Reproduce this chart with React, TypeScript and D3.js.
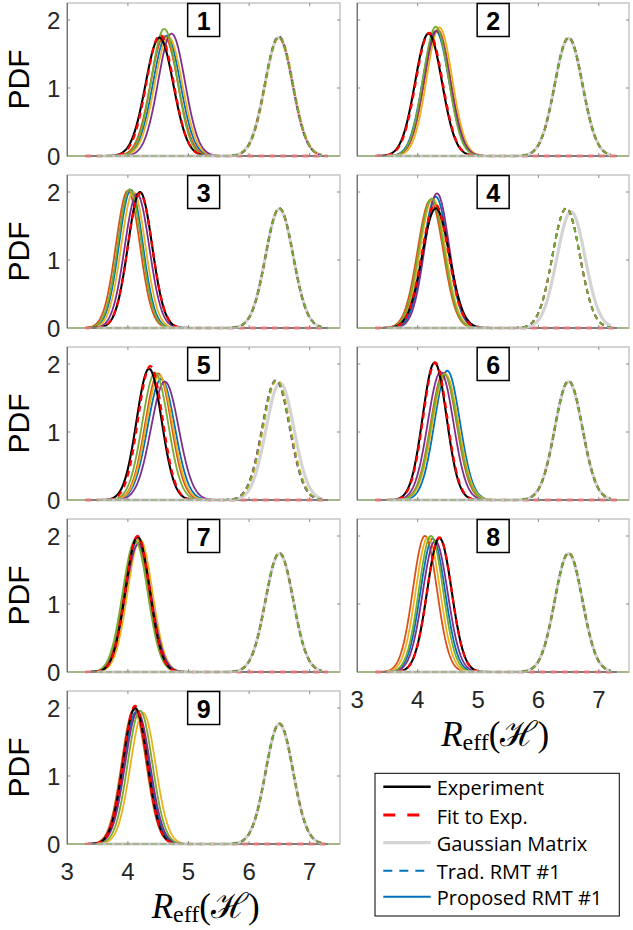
import React from "react";
import * as d3 from "d3";

// ---------- data ----------
// Each curve is a probability density; for each one we read its peak position (mean)
// and peak height off the picture (area = 1, so the peak fixes its width).
const panelIds = [1, 2, 3, 4, 5, 6, 7, 8, 9];

const expMean = [4.52, 4.18, 4.2, 4.3, 4.35, 4.28, 4.16, 4.36, 4.12];
const expPeak = [1.74, 1.8, 2.0, 1.76, 1.93, 2.02, 1.99, 1.97, 2.0];

const fitMean = [4.53, 4.19, 4.2, 4.29, 4.37, 4.29, 4.16, 4.36, 4.12];
const fitPeak = [1.78, 1.81, 1.98, 1.82, 1.97, 2.02, 2.0, 1.98, 2.03];

const gaussMean = [6.49, 6.5, 6.5, 6.54, 6.51, 6.5, 6.5, 6.5, 6.5];
const gaussPeak = [1.74, 1.73, 1.75, 1.71, 1.72, 1.74, 1.74, 1.74, 1.76];

// order of the five runs: blue, orange, yellow, purple, green
const tradMean = [
  [6.49, 6.49, 6.5, 6.49, 6.49],
  [6.5, 6.5, 6.5, 6.5, 6.5],
  [6.5, 6.5, 6.5, 6.5, 6.5],
  [6.46, 6.46, 6.46, 6.46, 6.46],
  [6.45, 6.45, 6.46, 6.44, 6.45],
  [6.5, 6.5, 6.5, 6.5, 6.5],
  [6.5, 6.5, 6.5, 6.5, 6.5],
  [6.5, 6.5, 6.5, 6.5, 6.5],
  [6.5, 6.5, 6.5, 6.5, 6.5],
];
const tradPeak = [
  [1.75, 1.74, 1.75, 1.76, 1.75],
  [1.74, 1.74, 1.74, 1.74, 1.74],
  [1.76, 1.76, 1.76, 1.76, 1.76],
  [1.76, 1.76, 1.76, 1.76, 1.76],
  [1.76, 1.76, 1.76, 1.76, 1.76],
  [1.75, 1.75, 1.75, 1.75, 1.75],
  [1.75, 1.75, 1.75, 1.75, 1.75],
  [1.75, 1.75, 1.75, 1.75, 1.75],
  [1.77, 1.77, 1.77, 1.77, 1.77],
];

const propMean = [
  [4.64, 4.6, 4.67, 4.72, 4.6],
  [4.3, 4.33, 4.36, 4.32, 4.3],
  [4.05, 4.0, 4.09, 4.15, 4.03],
  [4.3, 4.21, 4.25, 4.32, 4.23],
  [4.55, 4.5, 4.52, 4.61, 4.45],
  [4.49, 4.43, 4.46, 4.38, 4.44],
  [4.15, 4.14, 4.2, 4.17, 4.12],
  [4.25, 4.12, 4.17, 4.29, 4.22],
  [4.14, 4.1, 4.25, 4.16, 4.2],
];
const propPeak = [
  [1.77, 1.76, 1.75, 1.8, 1.87],
  [1.84, 1.86, 1.89, 1.84, 1.9],
  [2.03, 2.02, 2.0, 1.97, 2.04],
  [1.93, 1.88, 1.9, 1.98, 1.9],
  [1.78, 1.86, 1.83, 1.74, 1.87],
  [1.9, 1.87, 1.85, 1.88, 1.85],
  [1.92, 1.97, 1.95, 1.88, 1.93],
  [1.96, 2.0, 1.98, 1.93, 2.0],
  [1.95, 1.98, 1.93, 1.94, 1.96],
];

const runColors = ["#0072BD", "#D95319", "#EDB120", "#7E2F8E", "#77AC30"];

const xTicks = [3, 4, 5, 6, 7];
const yTicks = [0, 1, 2];

const legendLabels = [
  "Experiment",
  "Fit to Exp.",
  "Gaussian Matrix",
  "Trad. RMT #1",
  "Proposed RMT #1",
];

// ---------- layout ----------
const W = 633;
const H = 930;
const colX = [
  [67.3, 340],
  [357.3, 629],
];
const rowTop = [3, 175, 347, 519, 691];
const panelH = 153;

function densityPoints(mean: number, peak: number, x0: number, x1: number) {
  const sd = 1 / (peak * Math.sqrt(2 * Math.PI));
  const xs = d3.range(x0, x1 + 1e-9, 0.01);
  return xs.map((x) => [x, peak * Math.exp(-((x - mean) ** 2) / (2 * sd * sd))] as [number, number]);
}

function Panel({ idx }: { idx: number }) {
  const col = idx % 2;
  const row = Math.floor(idx / 2);
  const [left, right] = colX[col];
  const top = rowTop[row];
  const bottom = top + panelH;
  const x = d3.scaleLinear().domain([3, 7.5]).range([left, right]);
  const y = d3.scaleLinear().domain([0, 2.25]).range([bottom, top]);
  const line = d3
    .line<[number, number]>()
    .x((d) => x(d[0]))
    .y((d) => y(d[1]));

  const showY = col === 0;
  const showX = idx === 7 || idx === 8;
  const cx = (left + right) / 2;

  return (
    <g>
      <rect x={left} y={top} width={right - left} height={panelH} fill="#fff" />
      {/* proposed runs: full range */}
      {runColors.map((c, k) => (
        <path
          key={"p" + k}
          d={line(densityPoints(propMean[idx][k], propPeak[idx][k], 3, 7.5)) || ""}
          fill="none"
          stroke={c}
          strokeWidth={1.8}
        />
      ))}
      <path
        d={line(densityPoints(expMean[idx], expPeak[idx], 3.3, 7.3)) || ""}
        fill="none"
        stroke="#000"
        strokeWidth={2.1}
      />
      <path
        d={line(densityPoints(fitMean[idx], fitPeak[idx], 3.3, 7.3)) || ""}
        fill="none"
        stroke="#ff0000"
        strokeWidth={2.3}
        strokeDasharray="6,5"
      />
      <path
        d={line(densityPoints(gaussMean[idx], gaussPeak[idx], 3.5, 7.2)) || ""}
        fill="none"
        stroke="#d4d4d4"
        strokeWidth={3.2}
      />
      {runColors.map((c, k) => (
        <path
          key={"t" + k}
          d={line(densityPoints(tradMean[idx][k], tradPeak[idx][k], 3.5, 7.2)) || ""}
          fill="none"
          stroke={c}
          strokeWidth={1.9}
          strokeDasharray="5,4"
        />
      ))}
      {/* axes box */}
      <rect
        x={left}
        y={top}
        width={right - left}
        height={panelH}
        fill="none"
        stroke="#bdbdbd"
        strokeWidth={1.3}
      />
      <line x1={left} x2={left} y1={top} y2={bottom} stroke="#707070" strokeWidth={1.3} />
      {xTicks.slice(1).map((t) => (
        <g key={"xt" + t}>
          <line x1={x(t)} x2={x(t)} y1={top} y2={top + 3} stroke="#8a8a8a" strokeWidth={1} />
          <line x1={x(t)} x2={x(t)} y1={bottom} y2={bottom - 3} stroke="#8a8a8a" strokeWidth={1} />
        </g>
      ))}
      {yTicks.slice(1).map((t) => (
        <g key={"yt" + t}>
          <line x1={left} x2={left + 3} y1={y(t)} y2={y(t)} stroke="#8a8a8a" strokeWidth={1} />
          <line x1={right} x2={right - 3} y1={y(t)} y2={y(t)} stroke="#8a8a8a" strokeWidth={1} />
        </g>
      ))}
      {showY &&
        yTicks.map((t) => (
          <text
            key={"yl" + t}
            x={left - 7}
            y={y(t) + 8.5}
            textAnchor="end"
            fontFamily="'Liberation Sans', Arial, sans-serif"
            fontSize={24}
            fill="#262626"
          >
            {t}
          </text>
        ))}
      {showY && (
        <text
          transform={`translate(28.5,${(top + bottom) / 2}) rotate(-90)`}
          textAnchor="middle"
          fontFamily="'Liberation Sans', Arial, sans-serif"
          fontSize={30}
          fill="#000"
        >
          PDF
        </text>
      )}
      {showX &&
        xTicks.map((t) => (
          <text
            key={"xl" + t}
            x={x(t)}
            y={bottom + 36}
            textAnchor="middle"
            fontFamily="'Liberation Sans', Arial, sans-serif"
            fontSize={24}
            fill="#262626"
          >
            {t}
          </text>
        ))}
      {showX && (
        <text
          x={cx + 2}
          y={bottom + 74}
          textAnchor="middle"
          fontFamily="'Liberation Serif', 'DejaVu Serif', serif"
          fontSize={35}
          fill="#000"
        >
          <tspan fontStyle="italic">R</tspan>
          <tspan fontSize={24} dy={4}>
            eff
          </tspan>
          <tspan dy={-4}>(ℋ)</tspan>
        </text>
      )}
      {/* panel number */}
      <rect x={cx - 16} y={top + 0.5} width={32} height={33} fill="#fff" stroke="#000" strokeWidth={1.5} />
      <text
        x={cx}
        y={top + 27}
        textAnchor="middle"
        fontFamily="'Liberation Sans', Arial, sans-serif"
        fontWeight="bold"
        fontSize={25}
        fill="#000"
      >
        {panelIds[idx]}
      </text>
    </g>
  );
}

function Legend() {
  const lx = 375;
  const ly = 773.3;
  const lw = 244.3;
  const lh = 142.7;
  const rowsY = [786.7, 815, 842.7, 870.7, 896.7];
  const styles = [
    { stroke: "#000", width: 2.5, dash: undefined },
    { stroke: "#ff0000", width: 2.8, dash: "12,12" },
    { stroke: "#d4d4d4", width: 3.2, dash: undefined },
    { stroke: "#0072BD", width: 2, dash: "9,7" },
    { stroke: "#0072BD", width: 2, dash: undefined },
  ];
  return (
    <g>
      <rect x={lx} y={ly} width={lw} height={lh} fill="#fff" stroke="#000" strokeWidth={1} />
      {legendLabels.map((lab, i) => (
        <g key={lab}>
          <line
            x1={383.3}
            x2={430.7}
            y1={rowsY[i]}
            y2={rowsY[i]}
            stroke={styles[i].stroke}
            strokeWidth={styles[i].width}
            strokeDasharray={styles[i].dash}
          />
          <text
            x={436.7}
            y={rowsY[i] + 8.5}
            fontFamily="'Open Sans', sans-serif"
            fontSize={20}
            fill="#000"
          >
            {lab}
          </text>
        </g>
      ))}
    </g>
  );
}

export default function App() {
  return (
    <svg
      width={W}
      height={H}
      viewBox={`0 0 ${W} ${H}`}
      style={{ position: "absolute", left: 0, top: 0, background: "#fff" }}
    >
      <rect x={0} y={0} width={W} height={H} fill="#fff" />
      {panelIds.map((_, i) => (
        <Panel key={i} idx={i} />
      ))}
      <Legend />
    </svg>
  );
}
